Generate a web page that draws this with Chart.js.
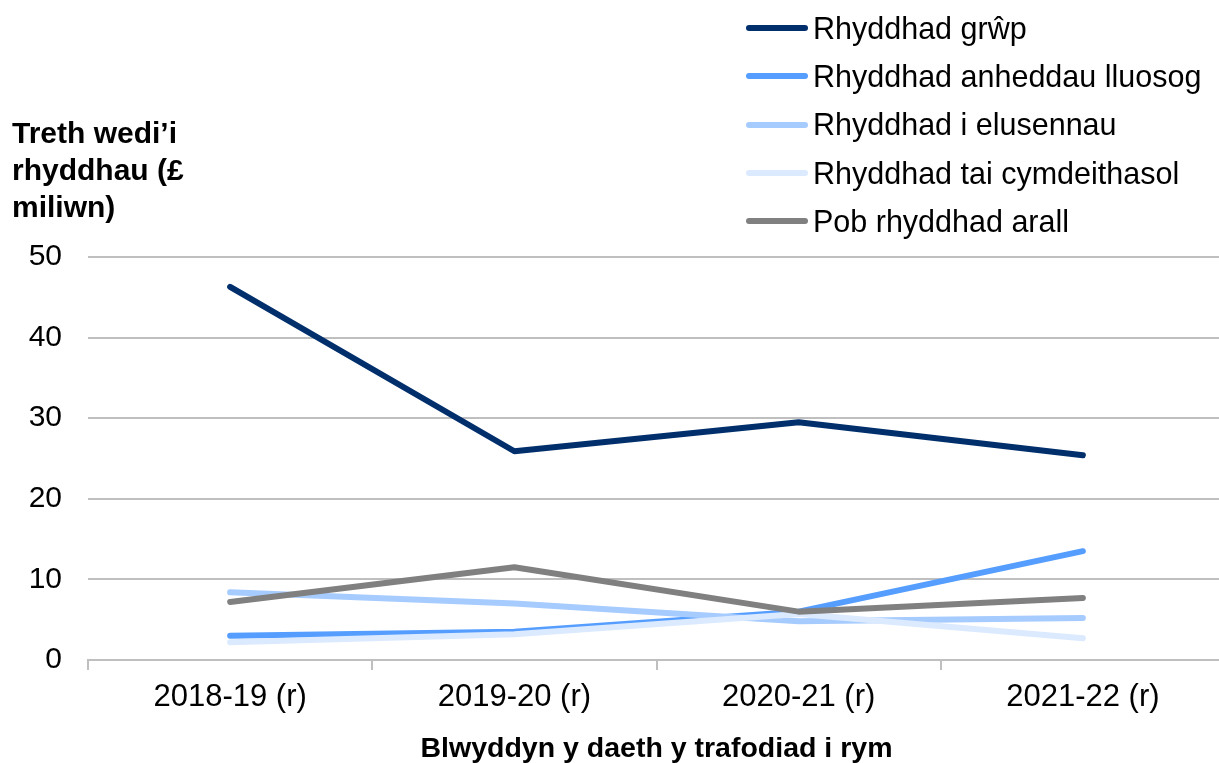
<!DOCTYPE html>
<html>
<head>
<meta charset="utf-8">
<script src="https://cdn.jsdelivr.net/npm/chart.js@4/dist/chart.umd.min.js"></script>
<style>
  html, body { margin:0; padding:0; background:#fff; overflow:hidden; }
  #wrap { position:relative; width:1219px; height:763px; overflow:hidden; font-family:"Liberation Sans", Arial, sans-serif; }
  #c { position:absolute; left:0; top:0; }
  #ytitle { position:absolute; left:12px; top:114px; font-weight:bold; font-size:30px; line-height:37px; color:#000; }
  #legend { position:absolute; left:746px; top:4px; font-size:30.5px; color:#000; }
  .li { display:flex; align-items:center; height:48.3px; }
  .sw { width:62px; height:6px; border-radius:3px; margin-right:5px; }
</style>
</head>
<body>
<div id="wrap">
  <canvas id="c" width="1225" height="763"></canvas>
  <div id="ytitle">Treth wedi’i<br>rhyddhau (£<br>miliwn)</div>
  <div id="legend"></div>
</div>
<script>
const categories = ["2018-19 (r)", "2019-20 (r)", "2020-21 (r)", "2021-22 (r)"];
const seriesNames = ["Rhyddhad grŵp", "Rhyddhad anheddau lluosog", "Rhyddhad i elusennau", "Rhyddhad tai cymdeithasol", "Pob rhyddhad arall"];
const grwp = [46.3, 25.9, 29.5, 25.4];
const anheddau = [3.0, 3.5, 6.0, 13.5];
const elusennau = [8.4, 7.0, 4.8, 5.2];
const taiCymdeithasol = [2.2, 3.2, 5.7, 2.7];
const arall = [7.2, 11.5, 6.0, 7.7];
const colors = ["#002F6C", "#559EFF", "#A6CBFF", "#DCEAFF", "#808080"];
const allValues = [grwp, anheddau, elusennau, taiCymdeithasol, arall];
const xTitle = "Blwyddyn y daeth y trafodiad i rym";

const datasets = allValues.map((v, i) => ({
  label: seriesNames[i],
  data: v,
  borderColor: colors[i],
  backgroundColor: colors[i],
  borderWidth: 6,
  pointRadius: 0,
  tension: 0,
  borderCapStyle: 'round',
  borderJoinStyle: 'round',
  order: 5 - i
}));

const leg = document.getElementById('legend');
seriesNames.forEach((n, i) => {
  const d = document.createElement('div');
  d.className = 'li';
  d.innerHTML = '<span class="sw" style="background:' + colors[i] + '"></span><span>' + n + '</span>';
  leg.appendChild(d);
});

new Chart(document.getElementById('c'), {
  type: 'line',
  data: { labels: categories, datasets },
  options: {
    responsive: false,
    animation: false,
    layout: { padding: { top: 257, right: 0, left: 0, bottom: 0 } },
    plugins: { legend: { display: false }, tooltip: { enabled: false } },
    scales: {
      x: {
        offset: true,
        afterFit: s => { s.height = 103; },
        grid: { offset: true, drawOnChartArea: false, drawTicks: true, tickLength: 10, color: '#bfbfbf', lineWidth: 2 },
        border: { display: true, color: '#bfbfbf', width: 2 },
        ticks: { color: '#000', font: { family: 'Liberation Sans', size: 31 }, padding: 9, maxRotation: 0 },
        title: { display: true, text: xTitle, color: '#000', font: { family: 'Liberation Sans', size: 28.5, weight: 'bold' }, padding: { top: 4, bottom: -3 } }
      },
      y: {
        min: 0, max: 50,
        afterFit: s => { s.width = 88; },
        ticks: { stepSize: 10, color: '#000', font: { family: 'Liberation Sans', size: 30 }, padding: 26 },
        grid: { color: '#bfbfbf', lineWidth: 2, drawTicks: false },
        border: { display: false }
      }
    }
  }
});
</script>
</body>
</html>
